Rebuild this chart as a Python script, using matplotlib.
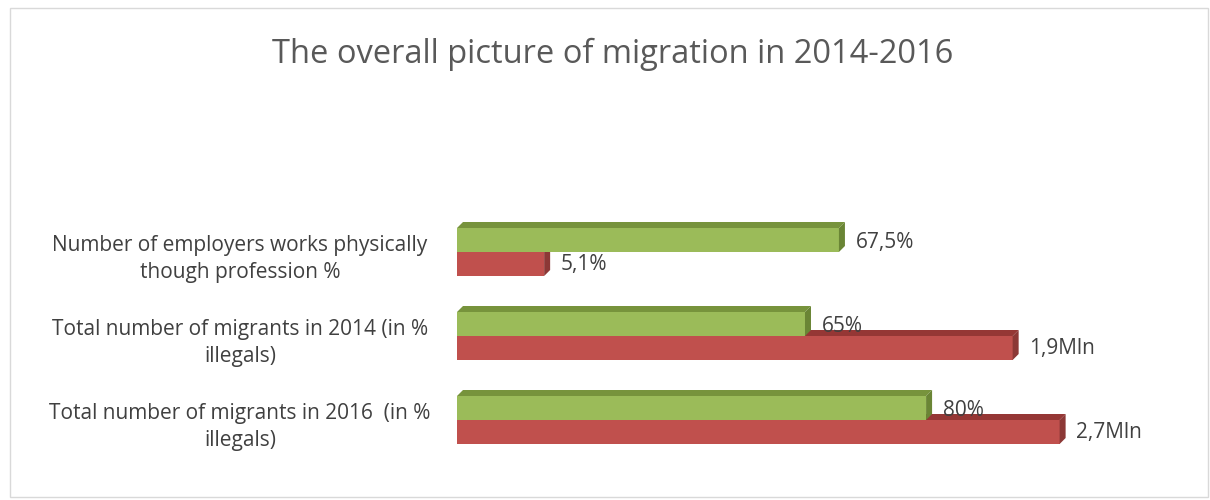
import matplotlib.pyplot as plt
from matplotlib.patches import Polygon, Rectangle
from matplotlib.transforms import blended_transform_factory

# categories, top to bottom
categories = [
    "Number of employers works physically\nthough profession %",
    "Total number of migrants in 2014 (in %\nillegals)",
    "Total number of migrants in 2016  (in %\nillegals)",
]
# bar lengths as drawn (chart units, green row 1 = 67.5)
green_vals = [67.5, 61.5, 82.9]
red_vals = [15.4, 98.2, 106.5]
green_labels = ["67,5%", "65%", "80%"]
red_labels = ["5,1%", "1,9Mln", "2,7Mln"]

GREEN = ("#9BBB59", "#77933C", "#6A8535")   # front, top, side
RED = ("#C0504D", "#953735", "#8C3836")
TEXT = "#404040"

W, H = 1210, 500
fig = plt.figure(figsize=(W / 100, H / 100), dpi=100)
plt.rcParams["font.family"] = ["Open Sans", "DejaVu Sans"]

# axes placed so that x=0 sits at pixel 457
ax_left, ax_right = 457, 1136
ax_top, ax_bot = 190, 480
ax = fig.add_axes([ax_left / W, 1 - ax_bot / H, (ax_right - ax_left) / W, (ax_bot - ax_top) / H])
xmax = 120
px_x = (ax_right - ax_left) / xmax
row_px = 84.0
ymin = -(ax_bot - 420) / row_px
ymax = 2 + (252 - ax_top) / row_px
ax.set_xlim(0, xmax)
ax.set_ylim(ymin, ymax)
ax.axis("off")

bar_h = 24 / row_px
dx = 6 / px_x
dy = 6 / row_px


def bar3d(x0, y0, length, colors):
    front, top, side = colors
    ax.add_patch(Rectangle((x0, y0), length, bar_h, facecolor=front, edgecolor="none"))
    ax.add_patch(Polygon([(x0, y0 + bar_h), (x0 + dx, y0 + bar_h + dy),
                          (x0 + length + dx, y0 + bar_h + dy), (x0 + length, y0 + bar_h)],
                         closed=True, facecolor=top, edgecolor="none"))
    ax.add_patch(Polygon([(x0 + length, y0), (x0 + length, y0 + bar_h),
                          (x0 + length + dx, y0 + bar_h + dy), (x0 + length + dx, y0 + dy)],
                         closed=True, facecolor=side, edgecolor="none"))


label_tr = blended_transform_factory(fig.transFigure, ax.transData)
n = len(categories)
for i, cat in enumerate(categories):
    pos = n - 1 - i
    bar3d(0, pos - bar_h, red_vals[i], RED)
    bar3d(0, pos, green_vals[i], GREEN)
    ax.text(green_vals[i] + dx + 1.9, pos + bar_h / 2 - 0.03, green_labels[i],
            va="center", ha="left", fontsize=15, color=TEXT)
    ax.text(red_vals[i] + dx + 1.9, pos - bar_h / 2 - 0.01, red_labels[i],
            va="center", ha="left", fontsize=15, color=TEXT)
    ax.text(240 / W, pos - 0.08, cat, transform=label_tr, ha="center", va="center",
            multialignment="center", fontsize=15, color=TEXT, linespacing=1.35)

fig.text(613 / W, 1 - 54 / H, "The overall picture of migration in 2014-2016",
         ha="center", va="center", fontsize=23.5, color="#595959")

fig.patches.append(Rectangle((10 / W, 3 / H), 1198 / W, 489 / H, transform=fig.transFigure,
                             facecolor="none", edgecolor="#D9D9D9", linewidth=1))

fig.savefig("out.png", dpi=100)
